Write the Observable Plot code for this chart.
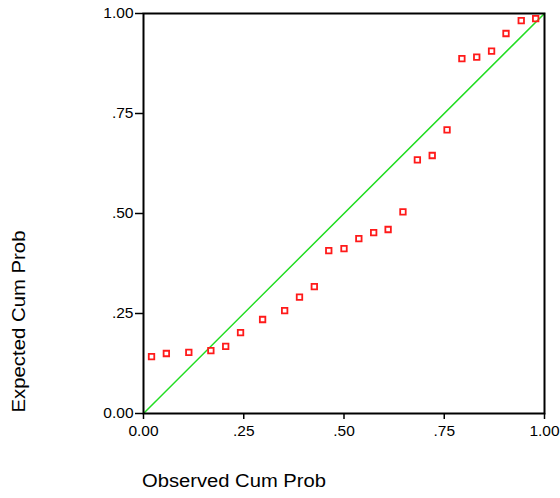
<!DOCTYPE html>
<html>
<head>
<meta charset="utf-8">
<script src="https://cdn.jsdelivr.net/npm/d3@7"></script>
<script src="https://cdn.jsdelivr.net/npm/@observablehq/plot@0.6"></script>
<style>
  html, body { margin: 0; padding: 0; background: #fff; }
  #chart svg { display: block; }
</style>
</head>
<body>
<div id="chart"></div>
<script>
// Normal P-P plot: observed vs. expected cumulative probability
const observed = [0.020, 0.057, 0.113, 0.168, 0.205, 0.242, 0.297, 0.352, 0.389, 0.426,
                  0.462, 0.500, 0.537, 0.574, 0.610, 0.647, 0.683, 0.720, 0.757,
                  0.794, 0.831, 0.868, 0.904, 0.942, 0.978];
const expected = [0.142, 0.150, 0.153, 0.157, 0.168, 0.202, 0.235, 0.257, 0.291, 0.317,
                  0.407, 0.412, 0.437, 0.452, 0.460, 0.504, 0.634, 0.645, 0.709,
                  0.887, 0.891, 0.906, 0.950, 0.982, 0.987];

// Reference line y = x
const refX = [0, 1];
const refY = [0, 1];

const tickValues = [0, 0.25, 0.5, 0.75, 1];
const tickLabels = ["0.00", ".25", ".50", ".75", "1.00"];

const xTitle = "Observed Cum Prob";
const yTitle = "Expected Cum Prob";

const points = observed.map((o, i) => ({o, e: expected[i]}));
const refLine = refX.map((x, i) => ({x, y: refY[i]}));
const fmt = v => tickLabels[tickValues.indexOf(v)];

const font = "'Liberation Sans', Arial, sans-serif";

const chart = Plot.plot({
  width: 560,
  height: 498,
  marginLeft: 143,
  marginRight: 16,
  marginTop: 13,
  marginBottom: 85,
  style: {fontFamily: font, background: "#fff", color: "#000"},
  x: {domain: [0, 1], label: null},
  y: {domain: [0, 1], label: null},
  marks: [
    Plot.line(refLine, {x: "x", y: "y", stroke: "#22dd22", strokeWidth: 1.5}),
    Plot.dot(points, {x: "o", y: "e", symbol: "square", r: 3.1, stroke: "#ff1a1a", strokeWidth: 1.8, fill: "none"}),
    Plot.frame({stroke: "#000", strokeWidth: 2}),
    Plot.axisX({ticks: tickValues, tickFormat: fmt, tickSize: 6, tickPadding: 5, fontSize: 15.5, stroke: "#000", strokeWidth: 1.5}),
    Plot.axisY({ticks: tickValues, tickFormat: fmt, tickSize: 8, tickPadding: 2, fontSize: 15.5, stroke: "#000", strokeWidth: 1.5})
  ]
});

document.getElementById("chart").appendChild(chart);

// Axis titles, set in the stretched style of the original charting package
const svg = d3.select(chart);
svg.append("text")
  .attr("x", 142).attr("y", 487)
  .attr("text-anchor", "start")
  .attr("font-family", font).attr("font-size", 17.5)
  .attr("fill", "#000")
  .attr("textLength", 184).attr("lengthAdjust", "spacingAndGlyphs")
  .text(xTitle);
svg.append("text")
  .attr("transform", "translate(25,412.5) rotate(-90)")
  .attr("text-anchor", "start")
  .attr("font-family", font).attr("font-size", 17.5)
  .attr("fill", "#000")
  .attr("textLength", 182).attr("lengthAdjust", "spacingAndGlyphs")
  .text(yTitle);
</script>
</body>
</html>
